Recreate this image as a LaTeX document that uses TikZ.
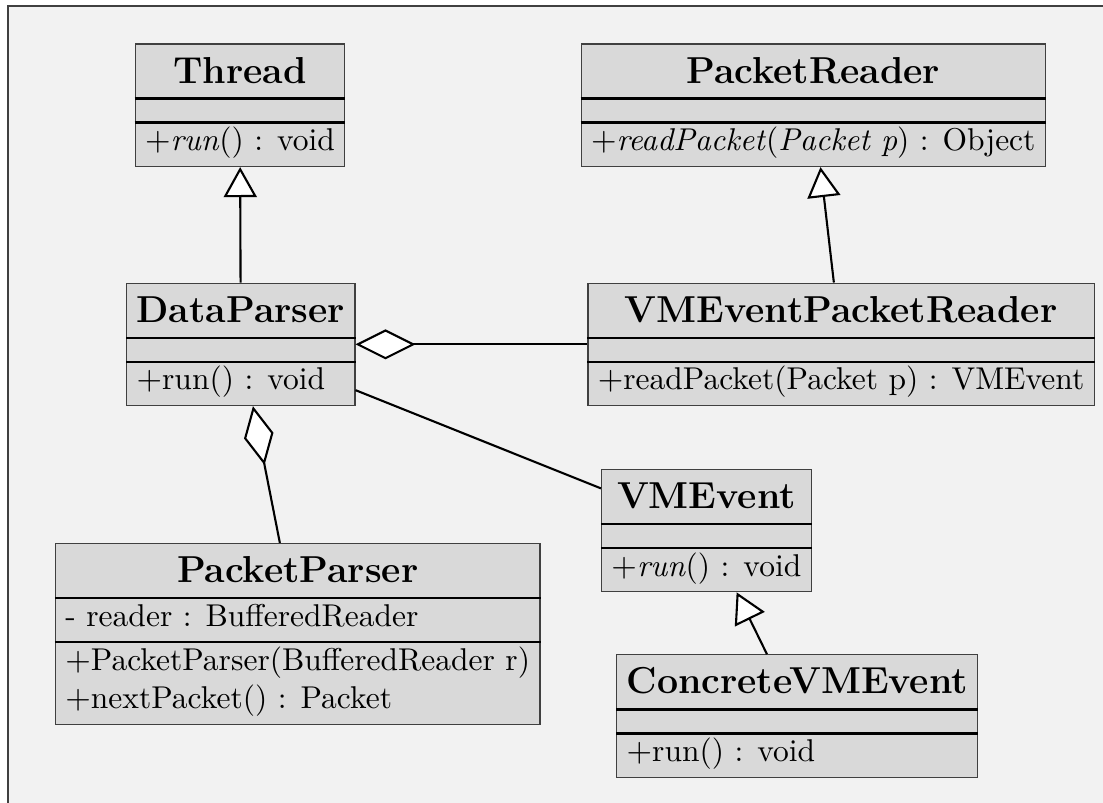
\documentclass[tikz,border=0pt]{standalone}
\usetikzlibrary{shapes.multipart,arrows.meta}

% struts for the class compartments
\newcommand{\umltitle}{\rule[-5pt]{0pt}{17.8pt}}
\newcommand{\umlempty}{\rule{0pt}{7.6pt}}
\newcommand{\umltop}{\rule{0pt}{9.2pt}}
\newcommand{\umlbot}{\rule[-5pt]{0pt}{5pt}}

\begin{document}
\begin{tikzpicture}[
    umlclass/.style={rectangle split, rectangle split parts=3, draw=black!75, fill=black!15,
        inner xsep=3.3pt, inner ysep=0pt, align=left, font=\fontsize{10.5}{12.8}\selectfont,
        rectangle split part align={center,left,left}},
    umlsplit/.style={line width=0.8pt},
    umlline/.style={line width=0.7pt},
    umlinherit/.style={umlline, -{Triangle[fill=white,length=10pt,width=11pt]}},
    umlaggr/.style={umlline, {Diamond[fill=white,length=20pt,width=10pt]}-}]
    \useasboundingbox (0,0) rectangle (12.918,9.393);
    \fill[black!5] (0.09,9.32) rectangle (13.2,-0.3);
    \draw[black!75, line width=0.6pt] (0.09,-0.3) -- (0.09,9.32) -- (13.2,9.32);

    \node[umlclass] (thread) at (2.81,8.16) {\fontsize{12.5}{15}\bfseries\umltitle Thread\nodepart{two}\umlempty\nodepart{three}\umltop\umlbot$+$\textit{run}() : void};
    \node[umlclass] (preader) at (9.525,8.16) {\fontsize{12.5}{15}\bfseries\umltitle PacketReader\nodepart{two}\umlempty\nodepart{three}\umltop\umlbot$+$\textit{readPacket}(\textit{Packet p}) : Object};
    \node[umlclass] (dparser) at (2.82,5.36) {\fontsize{12.5}{15}\bfseries\umltitle DataParser\nodepart{two}\umlempty\nodepart{three}\umltop\umlbot$+$run() : void};
    \node[umlclass] (vmreader) at (9.85,5.36) {\fontsize{12.5}{15}\bfseries\umltitle VMEventPacketReader\nodepart{two}\umlempty\nodepart{three}\umltop\umlbot$+$readPacket(Packet p) : VMEvent};
    \node[umlclass] (pparser) at (3.487,1.97) {\fontsize{12.5}{15}\bfseries\umltitle PacketParser\nodepart{two}\umltop\umlbot- reader : BufferedReader\nodepart{three}\umltop$+$PacketParser(BufferedReader r)\\$+$nextPacket() : Packet\umlbot};
    \node[umlclass] (vmevent) at (8.273,3.18) {\fontsize{12.5}{15}\bfseries\umltitle VMEvent\nodepart{two}\umlempty\nodepart{three}\umltop\umlbot$+$\textit{run}() : void};
    \node[umlclass] (cvmevent) at (9.337,1.007) {\fontsize{12.5}{15}\bfseries\umltitle ConcreteVMEvent\nodepart{two}\umlempty\nodepart{three}\umltop\umlbot$+$run() : void};

    % thicker compartment lines
    \foreach \c in {thread,preader,dparser,vmreader,pparser,vmevent,cvmevent} {
        \draw[umlsplit] (\c.text split west) -- (\c.text split east);
        \draw[umlsplit] (\c.two split west) -- (\c.two split east);
    }

    \draw[umlinherit] (dparser) -- (thread);
    \draw[umlinherit] (vmreader) -- (preader);
    \draw[umlaggr] (dparser) -- (vmreader);
    \draw[umlaggr] (dparser) -- (pparser);
    \draw[umlline] (dparser) -- (vmevent);
    \draw[umlinherit] (cvmevent) -- (vmevent);
\end{tikzpicture}
\end{document}
